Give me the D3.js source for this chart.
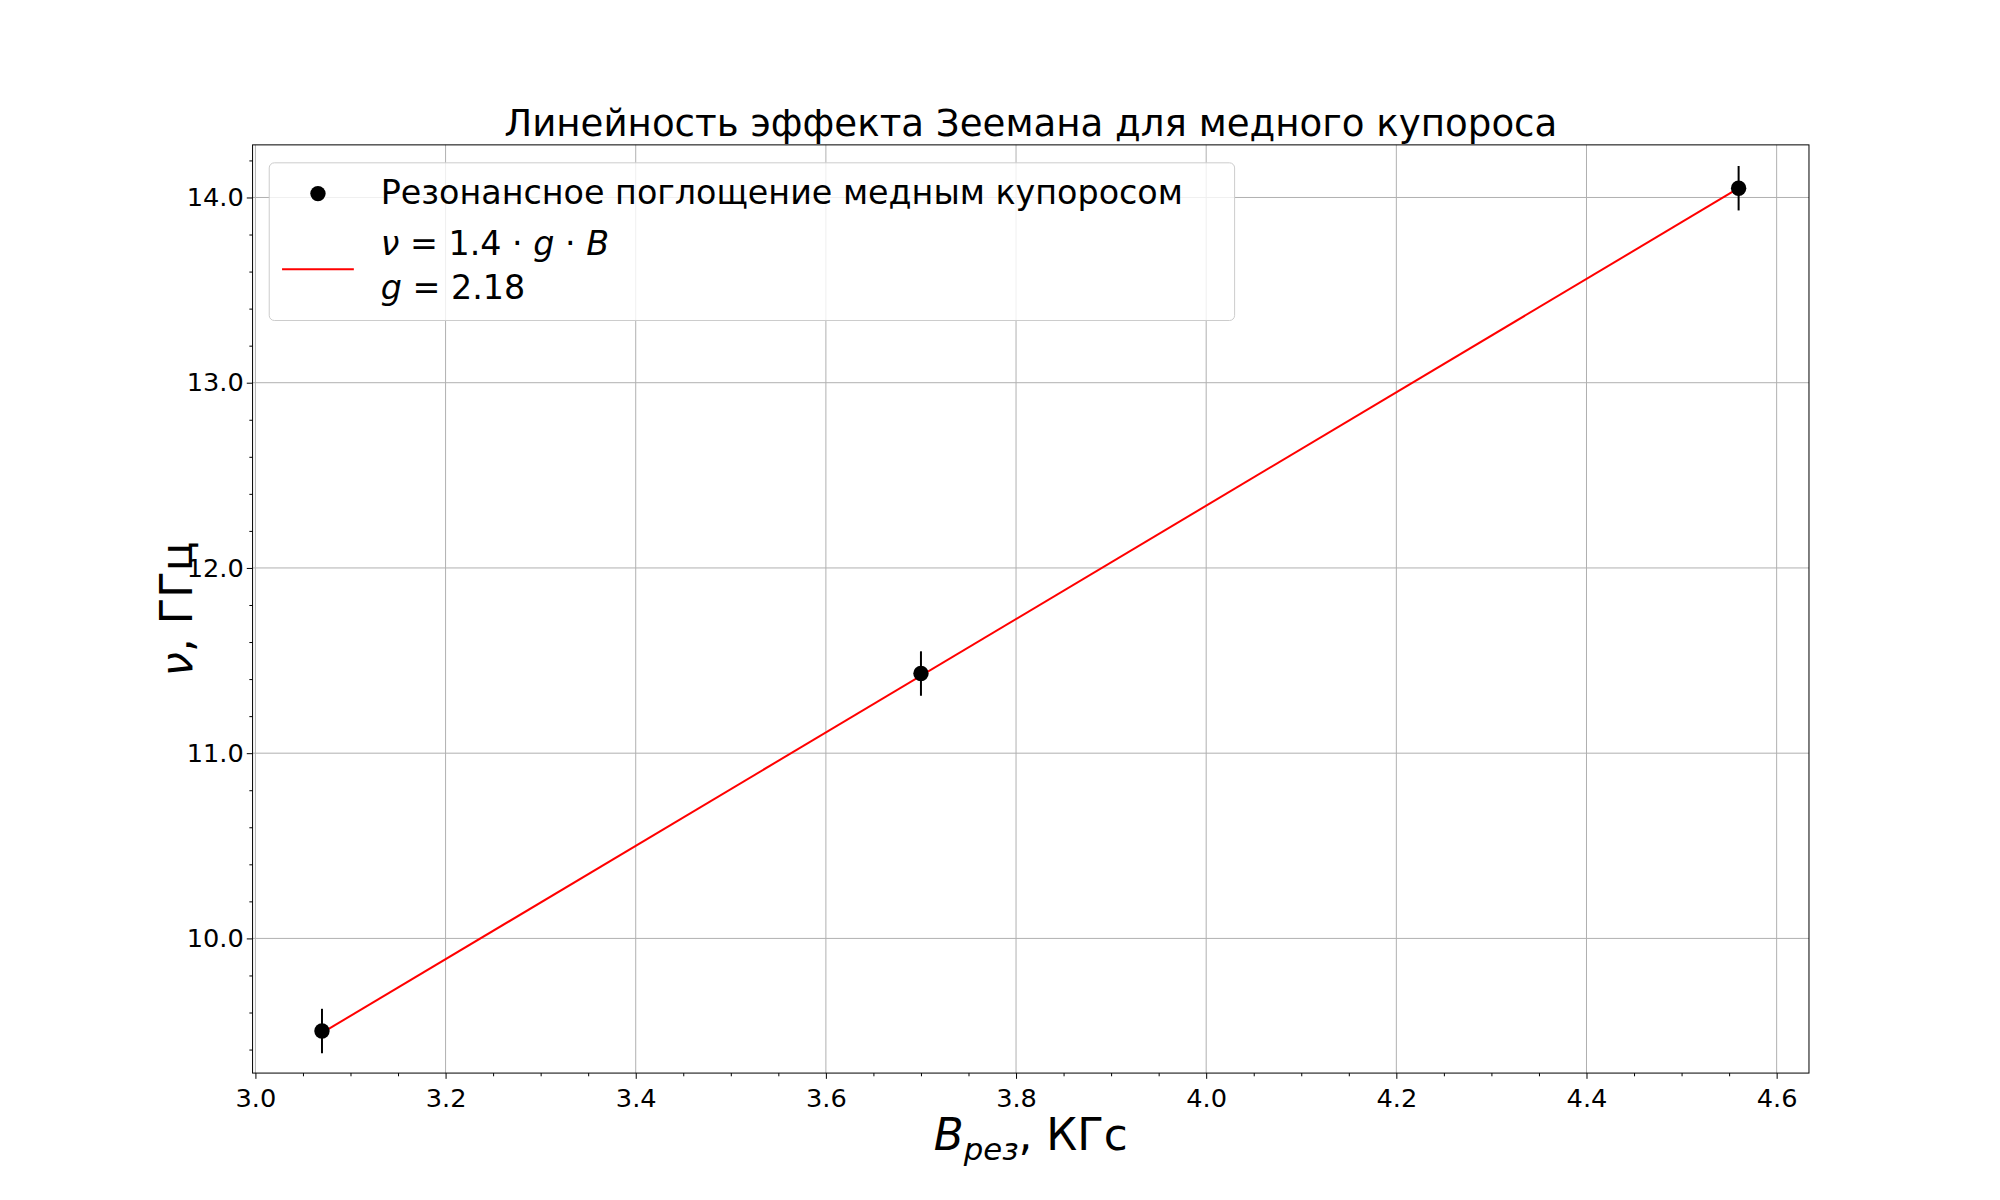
<!DOCTYPE html><html><head><meta charset="utf-8"><script src="https://cdn.jsdelivr.net/npm/d3@7"></script>
<style>body{margin:0;background:#fff}text{font-family:"DejaVu Sans"}</style></head><body><svg id="c" width="2000" height="1200"></svg>
<script>
const bValues=[3.07,3.70,4.56];
const nuValues=[9.50,11.43,14.05];
const nuErrors=[0.12,0.12,0.12];
const fitB=[3.07,4.56];
const fitNu=[9.49,14.05];
const xTicks=[3.0,3.2,3.4,3.6,3.8,4.0,4.2,4.4,4.6];
const yTicks=[10,11,12,13,14];
const s=2000/1560;
const L=197*s,R=1411*s,T=113*s,B=837*s;
const svg=d3.select("#c");
const x=d3.scaleLinear().domain([2.997,4.634]).range([L,R]);
const y=d3.scaleLinear().domain([9.273,14.284]).range([B,T]);
const g=svg.append("g");
// grid
g.selectAll(".gx").data(xTicks).join("line").attr("x1",d=>x(d)).attr("x2",d=>x(d)).attr("y1",T).attr("y2",B).attr("stroke","#b0b0b0").attr("stroke-width",1);
g.selectAll(".gy").data(yTicks).join("line").attr("y1",d=>y(d)).attr("y2",d=>y(d)).attr("x1",L).attr("x2",R).attr("stroke","#b0b0b0").attr("stroke-width",1);
const xa=svg.append("g").attr("transform",`translate(0,${B})`).call(d3.axisBottom(x).tickValues(xTicks).tickFormat(d3.format(".1f")).tickSize(4.5*s).tickSizeOuter(0));
const xm=svg.append("g").attr("transform",`translate(0,${B})`).call(d3.axisBottom(x).tickValues(d3.range(3.05,4.63,0.05).filter(v=>Math.abs(v*5-Math.round(v*5))>0.01)).tickFormat("").tickSize(2.5*s).tickSizeOuter(0));
const ya=svg.append("g").attr("transform",`translate(${L},0)`).call(d3.axisLeft(y).tickValues(yTicks).tickSize(4.5*s).tickSizeOuter(0));
const ym=svg.append("g").attr("transform",`translate(${L},0)`).call(d3.axisLeft(y).tickValues(d3.range(9.4,14.29,0.2).filter(v=>Math.abs(v-Math.round(v))>0.01)).tickFormat("").tickSize(2.5*s).tickSizeOuter(0));
[xa,ya].forEach(a=>a.selectAll("text").attr("font-size",20*s).attr("font-family","DejaVu Sans").attr("fill","#000"));
xa.selectAll("text").attr("dy","1.0em");
[xa,xm,ya,ym].forEach(a=>{a.select(".domain").remove();a.selectAll("line").attr("stroke","#000")});
svg.append("rect").attr("x",L).attr("y",T).attr("width",R-L).attr("height",B-T).attr("fill","none").attr("stroke","#000").attr("stroke-width",1);
// fit line
svg.append("path").datum(fitB.map((b,i)=>[b,fitNu[i]])).attr("d",d3.line().x(d=>x(d[0])).y(d=>y(d[1]))).attr("stroke","red").attr("stroke-width",2).attr("fill","none");
// errors + points
svg.selectAll(".e").data(bValues).join("line").attr("x1",d=>x(d)).attr("x2",d=>x(d)).attr("y1",(d,i)=>y(nuValues[i]-nuErrors[i])).attr("y2",(d,i)=>y(nuValues[i]+nuErrors[i])).attr("stroke","#000").attr("stroke-width",2);
svg.selectAll(".p").data(bValues).join("circle").attr("cx",d=>x(d)).attr("cy",(d,i)=>y(nuValues[i])).attr("r",6*s).attr("fill","#000");
// title & labels
svg.append("text").attr("x",(L+R)/2).attr("y",106*s).attr("text-anchor","middle").attr("font-size",29*s).text("Линейность эффекта Зеемана для медного купороса");
const xl=svg.append("text").attr("x",(L+R)/2).attr("y",897*s).attr("text-anchor","middle").attr("font-size",34*s);
xl.append("tspan").attr("font-style","italic").text("B");
xl.append("tspan").attr("font-style","italic").attr("font-size",24*s).attr("dy",8*s).text("рез");
xl.append("tspan").attr("dy",-8*s).text(", КГс");
const yl=svg.append("text").attr("transform",`translate(${150*s},${(T+B)/2}) rotate(-90)`).attr("text-anchor","middle").attr("font-size",34*s);
yl.append("tspan").attr("font-style","italic").text("ν");yl.append("tspan").text(", ГГц");
// legend
svg.append("rect").attr("x",210*s).attr("y",127*s).attr("width",753*s).attr("height",123*s).attr("rx",4*s).attr("fill","#fff").attr("fill-opacity",0.8).attr("stroke","#ccc");
svg.append("circle").attr("cx",248*s).attr("cy",151*s).attr("r",6*s).attr("fill","#000");
svg.append("text").attr("x",297*s).attr("y",159*s).attr("font-size",26*s).text("Резонансное поглощение медным купоросом");
svg.append("line").attr("x1",220*s).attr("x2",276*s).attr("y1",210*s).attr("y2",210*s).attr("stroke","red").attr("stroke-width",2);
const t1=svg.append("text").attr("x",297*s).attr("y",199*s).attr("font-size",26*s);
t1.append("tspan").attr("font-style","italic").text("ν");t1.append("tspan").text(" = 1.4 · ");t1.append("tspan").attr("font-style","italic").text("g");t1.append("tspan").text(" · ");t1.append("tspan").attr("font-style","italic").text("B");
const t2=svg.append("text").attr("x",297*s).attr("y",233*s).attr("font-size",26*s);
t2.append("tspan").attr("font-style","italic").text("g");t2.append("tspan").text(" = 2.18");
</script></body></html>
